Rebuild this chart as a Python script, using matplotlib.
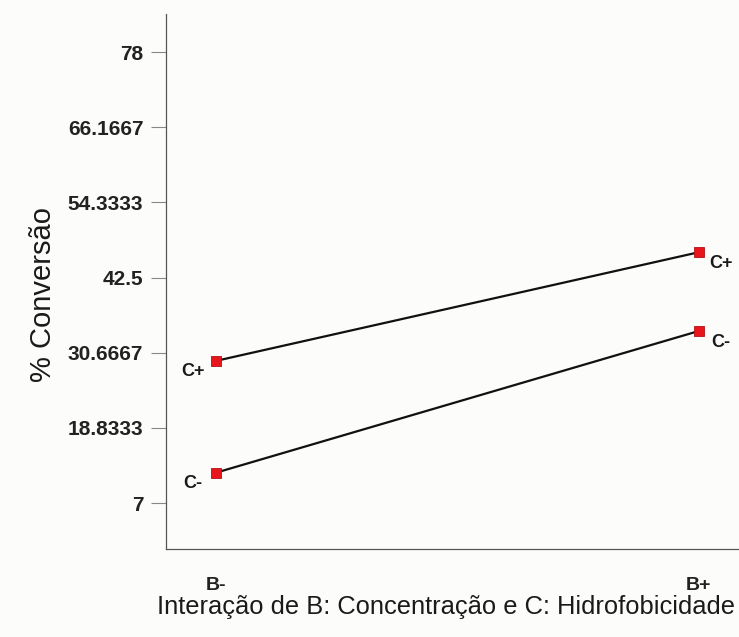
import matplotlib.pyplot as plt

# data
levels = ["B-", "B+"]
c_plus = [29.4, 46.5]
c_minus = [11.8, 34.1]
ytick_vals = [7, 18.8333, 30.6667, 42.5, 54.3333, 66.1667, 78]
ytick_labels = ["7", "18.8333", "30.6667", "42.5", "54.3333", "66.1667", "78"]

plt.rcParams["font.family"] = ["Liberation Sans", "DejaVu Sans"]

fig = plt.figure(figsize=(7.39, 6.37), dpi=100)
fig.patch.set_facecolor("#fcfcfa")
ax = fig.add_axes([0.224, 0.138, 0.776, 0.84])
ax.set_facecolor("#fcfcfa")

x = list(range(len(levels)))
for series, name in [(c_plus, "C+"), (c_minus, "C-")]:
    ax.plot(x, series, color="#111111", lw=1.6, marker="s", ms=7.5,
            mfc="#e8161b", mec="#b01015", mew=0.6, zorder=3)
    # labels beside each end point
    ax.annotate(name, (x[0], series[0]), xytext=(-17, -8), textcoords="offset points",
                ha="center", va="center", fontsize=13, fontweight="bold", color="#1a1a1a")
    ax.annotate(name, (x[1], series[1]), xytext=(16, -8), textcoords="offset points",
                ha="center", va="center", fontsize=13, fontweight="bold", color="#1a1a1a")

ax.set_xlim(-0.105, 1.083)
ax.set_ylim(-0.24, 84)
ax.set_yticks(ytick_vals, ytick_labels)
ax.set_xticks(x, levels)

ax.tick_params(axis="y", length=11, width=0.8, color="#888888", pad=5,
               labelsize=15, labelcolor="#222222")
ax.tick_params(axis="x", length=0, pad=20, labelsize=14, labelcolor="#222222")
for lab in ax.get_yticklabels() + ax.get_xticklabels():
    lab.set_fontweight("bold")

for side in ["top", "right"]:
    ax.spines[side].set_visible(False)
for side in ["left", "bottom"]:
    ax.spines[side].set_color("#555555")
    ax.spines[side].set_linewidth(0.9)

ax.set_ylabel("% Conversão", fontsize=21, color="#1a1a1a")
ax.yaxis.set_label_coords(-0.19, 0.475)
ax.set_xlabel("Interação de B: Concentração e C: Hidrofobicidade", fontsize=18.4,
              color="#1a1a1a")
ax.xaxis.set_label_coords(0.489, -0.085)

fig.savefig("out.png", dpi=100, facecolor=fig.get_facecolor())
